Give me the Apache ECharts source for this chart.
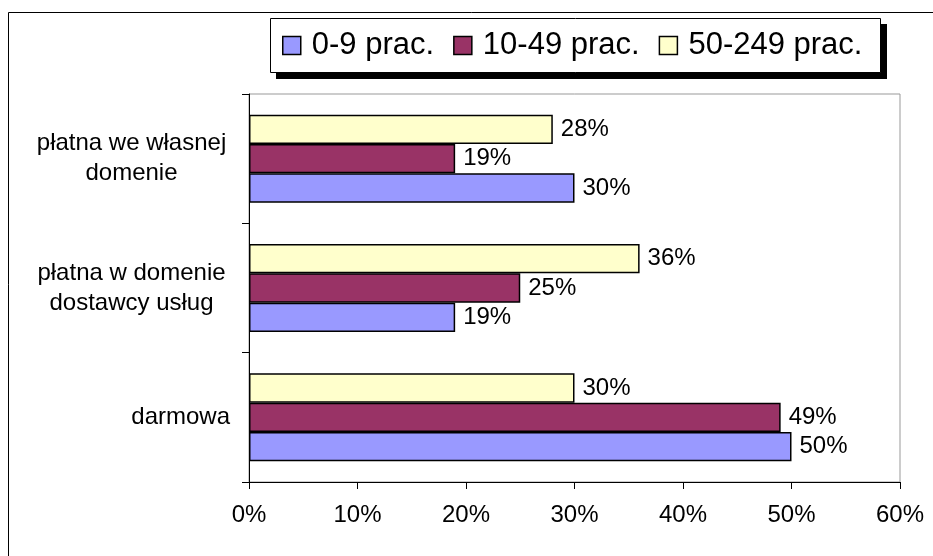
<!DOCTYPE html>
<html>
<head>
<meta charset="utf-8">
<script src="https://cdn.jsdelivr.net/npm/echarts@6/dist/echarts.min.js"></script>
<style>html,body{margin:0;padding:0;background:#fff;}#c{width:933px;height:556px;}</style>
</head>
<body>
<div id="c"></div>
<script>
const categories = ['darmowa', 'płatna w domenie\ndostawcy usług', 'płatna we własnej\ndomenie'];
const seriesNames = ['0-9 prac.', '10-49 prac.', '50-249 prac.'];
const s0_9 = [50, 19, 30];
const s10_49 = [49, 25, 19];
const s50_249 = [30, 36, 28];
const xTicks = [0, 10, 20, 30, 40, 50, 60];
const colors = ['#9999FF', '#993366', '#FFFFCC'];

const FONT = 'Liberation Sans, Arial, sans-serif';
const chart = echarts.init(document.getElementById('c'));
const values = [s0_9, s10_49, s50_249];

// ECharts stacks horizontal groups top-down by series order, so add them reversed
const order = [2, 1, 0];

chart.setOption({
  animation: false,
  textStyle: { fontFamily: FONT },
  graphic: [
    { type: 'rect', silent: true, z: -10,
      shape: { x: 8.5, y: 12.5, width: 1200, height: 1200 },
      style: { fill: 'none', stroke: '#000', lineWidth: 1 } },
    { type: 'rect', silent: true, z: 1,
      shape: { x: 276, y: 24, width: 611, height: 55 },
      style: { fill: '#000' } },
    { type: 'rect', silent: true, z: 2,
      shape: { x: 270.5, y: 18.5, width: 610, height: 54 },
      style: { fill: '#fff', stroke: '#000', lineWidth: 1 } }
  ],
  legend: {
    left: 270, top: 18, z: 10,
    padding: [12, 17, 11, 12],
    itemWidth: 18, itemHeight: 18, itemGap: 19,
    icon: 'rect',
    itemStyle: { borderWidth: 1.5 },
    textStyle: { fontSize: 31, color: '#000', fontFamily: FONT, padding: [0, 0, 0, 6] },
    data: seriesNames
  },
  grid: {
    left: 249, right: 33, top: 94, bottom: 74,
    show: true, borderColor: '#999', borderWidth: 1, backgroundColor: 'transparent'
  },
  xAxis: {
    type: 'value', min: xTicks[0], max: xTicks[xTicks.length - 1], interval: 10,
    axisLine: { show: true, lineStyle: { color: '#000', width: 1 } },
    axisTick: { show: true, length: 7, lineStyle: { color: '#000' } },
    splitLine: { show: false },
    axisLabel: { formatter: '{value}%', fontSize: 24, color: '#000', margin: 21, fontFamily: FONT }
  },
  yAxis: {
    type: 'category', data: categories,
    axisLine: { show: true, lineStyle: { color: '#000', width: 1 } },
    axisTick: { show: true, length: 7, lineStyle: { color: '#000' } },
    axisLabel: {
      fontSize: 24, color: '#000', margin: 19, align: 'right', lineHeight: 30, fontFamily: FONT,
      formatter: function (v) {
        if (v.indexOf('\n') < 0) return v;
        return v.split('\n').map(function (l) { return '{c|' + l + '}'; }).join('\n');
      },
      rich: { c: { width: 197, align: 'center', fontSize: 24, lineHeight: 30, color: '#000', fontFamily: FONT } }
    }
  },
  series: order.map(function (i) {
    return {
      name: seriesNames[i], type: 'bar', data: values[i],
      barGap: '0%', barCategoryGap: '32%',
      itemStyle: { color: colors[i], borderColor: '#000', borderWidth: 1.5 },
      label: { show: true, position: 'right', distance: 8, formatter: '{c}%', fontSize: 24, color: '#000', fontFamily: FONT }
    };
  })
});
</script>
</body>
</html>
